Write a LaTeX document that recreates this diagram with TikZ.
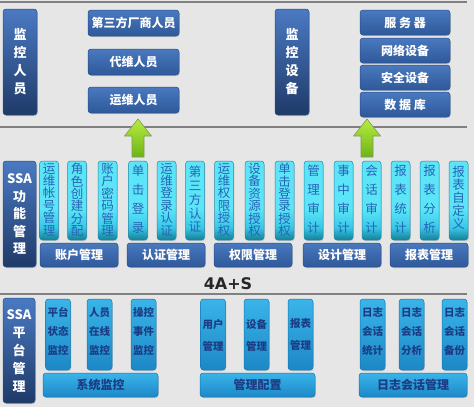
\documentclass[tikz,border=0pt]{standalone}
\usepackage{fontspec}
\setmainfont{Noto Sans CJK SC}
\newfontfamily\latfont{DejaVu Sans}
\usetikzlibrary{shadows}

\definecolor{bg}{HTML}{E6E6E6}
\definecolor{sepline}{HTML}{808080}
\definecolor{dbTop}{HTML}{4A7AC2}
\definecolor{dbBot}{HTML}{1F3A68}
\definecolor{bxTop}{HTML}{4A79BF}
\definecolor{bxBot}{HTML}{2E5899}
\definecolor{bxLine}{HTML}{2A4F8C}
\definecolor{cyTop}{HTML}{5CE5F8}
\definecolor{cyMid}{HTML}{38C8E8}
\definecolor{cyBot}{HTML}{147F96}
\definecolor{cyLine}{HTML}{2A86A6}
\definecolor{cyText}{HTML}{2764B4}
\definecolor{skTop}{HTML}{3AB4EA}
\definecolor{skBot}{HTML}{1C88C6}
\definecolor{skLine}{HTML}{1777B0}
\definecolor{skText}{HTML}{1C3C84}
\definecolor{arTop}{HTML}{B8EC40}
\definecolor{arBot}{HTML}{6DB316}
\definecolor{arLine}{HTML}{7E9A5A}
\definecolor{dbMid}{HTML}{3C6BB2}

\pgfdeclareverticalshading{cyanshade}{100bp}{color(0bp)=(cyBot); color(25bp)=(cyBot); color(33bp)=(cyMid); color(45bp)=(cyTop); color(75bp)=(cyTop); color(100bp)=(cyTop)}

\tikzset{
  shadowed/.style={drop shadow={shadow xshift=0.8pt,shadow yshift=-1.2pt,opacity=.25}},
  tallbox/.style={shadowed, rounded corners=3pt, top color=dbTop, middle color=dbMid, bottom color=dbBot, draw=bxLine, line width=0.5pt,
    text=white, font=\bfseries\fontsize{13}{18}\selectfont, align=center, inner sep=0pt},
  bluebox/.style={shadowed, rounded corners=3pt, top color=bxTop, bottom color=bxBot, draw=bxLine, line width=0.5pt,
    text=white, font=\bfseries\fontsize{12}{14}\selectfont, align=center, inner sep=0pt},
  cyancol/.style={shadowed, rounded corners=3pt, shading=cyanshade, draw=cyLine, line width=0.5pt,
    minimum width=19pt, minimum height=79pt, inner sep=0pt},
  coltext/.style={text=cyText, font=\fontsize{12.5}{#1}\selectfont, align=center, inner sep=0pt},
  skycol/.style={shadowed, rounded corners=3pt, top color=skTop, bottom color=skBot, draw=skLine, line width=0.5pt,
    minimum width=25pt, minimum height=71pt, inner sep=0pt},
  skytext/.style={text=skText, font=\bfseries\fontsize{10.5}{#1}\selectfont, align=center, inner sep=0pt},
  skybar/.style={shadowed, rounded corners=3pt, top color=skTop, bottom color=skBot, draw=skLine, line width=0.5pt,
    minimum height=24pt, inner sep=0pt, text=skText, font=\bfseries\fontsize{12}{14}\selectfont},
  uparrow/.style={top color=arTop, bottom color=arBot, draw=arLine, line width=0.6pt, line join=round},
  sep/.style={draw=sepline, line width=2pt}
}

\begin{document}
\begin{tikzpicture}[x=1pt,y=-1pt]
\useasboundingbox (0,0) rectangle (474,407);
\fill[bg] (0,0) rectangle (474,407);

% separator lines
\coordinate (l1a) at (0,1.5);   \coordinate (l1b) at (467,1.5);
\coordinate (l2a) at (0,127);   \coordinate (l2b) at (467,127);
\coordinate (l3a) at (0,294);   \coordinate (l3b) at (467,294);
\draw[sep] (l1a) -- (l1b);
\draw[sep] (l2a) -- (l2b);
\draw[sep] (l3a) -- (l3b);

% ---------- top section ----------
\node[tallbox, minimum width=34pt, minimum height=106pt] (jkry) at (20,62) {监\\控\\人\\员};
\node[bluebox, minimum width=91pt, minimum height=26pt] (dsf) at (133.5,23) {第三方厂商人员};
\node[bluebox, minimum width=91pt, minimum height=26pt] (dwry) at (133.5,62) {代维人员};
\node[bluebox, minimum width=91pt, minimum height=26pt] (ywry) at (133.5,100) {运维人员};

\node[tallbox, minimum width=34pt, minimum height=106pt] (jksb) at (292,62) {监\\控\\设\\备};
\node[bluebox, minimum width=90pt, minimum height=25pt] (fwq) at (405,22.5) {服 务 器};
\node[bluebox, minimum width=90pt, minimum height=25pt] (wlsb) at (405,50.5) {网络设备};
\node[bluebox, minimum width=90pt, minimum height=25pt] (aqsb) at (405,77.5) {安全设备};
\node[bluebox, minimum width=90pt, minimum height=25pt] (sjk) at (405,104.5) {数 据 库};

% green arrows
\path[uparrow] (138,119) -- (151.5,136) -- (144,136) -- (144,157) -- (132,157) -- (132,136) -- (124.5,136) -- cycle;
\path[uparrow] (367,119) -- (380.5,136) -- (373,136) -- (373,157) -- (361,157) -- (361,136) -- (353.5,136) -- cycle;

% ---------- middle section ----------
\node[tallbox, minimum width=33pt, minimum height=106pt, font=\bfseries\fontsize{13}{17.5}\selectfont] (ssa1) at (19.5,214) {SSA\\功\\能\\管\\理};

\foreach \nm/\cx/\pitch/\ytop/\txt in {
 ca/49/12.4/163/{运\\维\\帐\\号\\管\\理},
 cb/77/12.4/163/{角\\色\\创\\建\\分\\配},
 cc/107.5/12.4/163/{账\\户\\密\\码\\管\\理},
 cd/138/19/165/{单\\击\\登\\录},
 ce/166.5/12.4/163/{运\\维\\登\\录\\认\\证},
 cf/195/13.8/166/{第\\三\\方\\认\\证},
 cg/224/12.4/163/{运\\维\\权\\限\\授\\权},
 ch/254.5/12.4/163/{设\\备\\资\\源\\授\\权},
 ci/284.5/12.4/163/{单\\击\\登\\录\\授\\权},
 cj/313.5/19/165/{管\\理\\审\\计},
 ck/343.5/19/165/{事\\中\\审\\计},
 cl/371.5/19/165/{会\\话\\审\\计},
 cm/400.5/19/165/{报\\表\\统\\计},
 cn/429.5/19/165/{报\\表\\分\\析},
 co/458.5/13/166/{报\\表\\自\\定\\义}}{
 \node[cyancol] (\nm) at (\cx,200.5) {};
 \node[coltext=\pitch, anchor=north] (\nm t) at (\cx,\ytop) {\txt};
}

\node[bluebox, minimum width=78pt, minimum height=24pt] (zhgl) at (79,255) {账户管理};
\node[bluebox, minimum width=78pt, minimum height=24pt] (rzgl) at (166,255) {认证管理};
\node[bluebox, minimum width=78pt, minimum height=24pt] (qxgl) at (253,255) {权限管理};
\node[bluebox, minimum width=78pt, minimum height=24pt] (sjgl) at (342,255) {设计管理};
\node[bluebox, minimum width=78pt, minimum height=24pt] (bbgl) at (429,255) {报表管理};

\node[inner sep=0pt, font=\latfont\bfseries\fontsize{16}{18}\selectfont, text=black!85] (title) at (228,284) {4A+S};

% ---------- bottom section ----------
\node[tallbox, minimum width=32pt, minimum height=105pt, font=\bfseries\fontsize{13}{18}\selectfont] (ssa2) at (19,350.5) {SSA\\平\\台\\管\\理};

\foreach \nm/\cx/\pitch/\ty/\txt in {
 pa/58/19/331.5/{平台\\状态\\监控},
 pb/99.5/19/331.5/{人员\\在线\\监控},
 pc/143.5/19/331.5/{操控\\事件\\监控},
 pd/213/22/335/{用户\\管理},
 pe/256.5/22/335/{设备\\管理},
 pf/300.5/22/335/{报表\\管理},
 pg/372.5/19/331.5/{日志\\会话\\统计},
 ph/411.5/19/331.5/{日志\\会话\\分析},
 pi/454.5/19/331.5/{日志\\会话\\备份}}{
 \node[skycol] (\nm) at (\cx,334.5) {};
 \node[skytext=\pitch] (\nm t) at (\cx,\ty) {\txt};
}

\node[skybar, minimum width=115pt] (xtjk) at (100.5,385) {系统监控};
\node[skybar, minimum width=115pt] (glpz) at (257.5,385) {管理配置};
\node[skybar, minimum width=108pt] (rzhh) at (413,385) {日志会话管理};
\end{tikzpicture}
\end{document}
